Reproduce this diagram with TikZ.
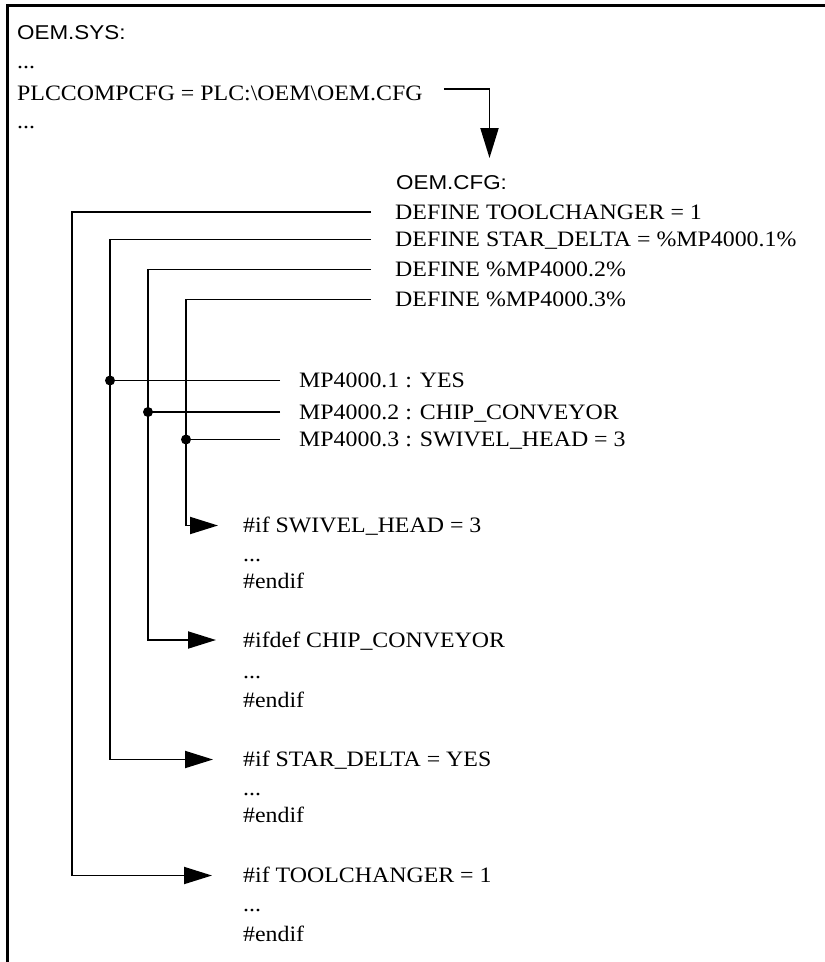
\documentclass[tikz,border=0pt]{standalone}
\usepackage{fontspec}
\setmainfont{Liberation Serif}[FakeStretch=1.085]
\newfontfamily\oemsans{Liberation Sans}[FakeStretch=1.12]
\usetikzlibrary{arrows.meta}
\tikzset{
  txt/.style={inner sep=0pt, anchor=west, font=\fontsize{22}{26}\selectfont, text height=14.6pt, text depth=0pt},
  dotline/.style={inner sep=0pt, anchor=base west, font=\fontsize{22}{26}\selectfont},
  stxt/.style={inner sep=0pt, anchor=west, font=\oemsans\fontsize{20}{24}\selectfont, text height=14.3pt, text depth=0pt},
  conn/.style={line width=1.9pt},
  arr/.style={conn, -{Triangle[length=28pt,width=17pt]}},
  frameline/.style={line width=2.2pt},
  jdot/.style={fill=black}
}
\begin{document}
\begin{tikzpicture}[x=1pt,y=-1pt]
\useasboundingbox (0,0) rectangle (825,962);
% frame
\draw[frameline] (7.5,962) -- (7.5,5.5) -- (825,5.5);

% OEM.SYS part
\node[stxt] (oemsys) at (17,32.2) {OEM.SYS:};
\node[dotline] (dotsA) at (17,68) {...};
\node[txt] (plc) at (17,92.8) {PLCCOMPCFG = PLC:\textbackslash OEM\textbackslash OEM.CFG};
\node[dotline] (dotsB) at (17,128) {...};

% OEM.CFG part
\node[stxt] (cfg) at (396,182.8) {OEM.CFG:};
\node[txt] (def1) at (395,212) {DEFINE TOOLCHANGER = 1};
\node[txt] (def2) at (395,239.5) {DEFINE STAR\_DELTA = \%MP4000.1\%};
\node[txt] (def3) at (395,269.5) {DEFINE \%MP4000.2\%};
\node[txt] (def4) at (395,299.5) {DEFINE \%MP4000.3\%};

\node[txt] (mp1) at (299,380.5) {MP4000.1 : YES};
\node[txt] (mp2) at (299,412) {MP4000.2 : CHIP\_CONVEYOR};
\node[txt] (mp3) at (299,439.5) {MP4000.3 : SWIVEL\_HEAD = 3};

\node[txt] (ifS) at (243,525.5) {\#if SWIVEL\_HEAD = 3};
\node[dotline] (dotsS) at (243,561.7) {...};
\node[dotline] (endS) at (243,588) {\#endif};

\node[txt] (ifC) at (243,640) {\#ifdef CHIP\_CONVEYOR};
\node[dotline] (dotsC) at (243,678) {...};
\node[dotline] (endC) at (243,707) {\#endif};

\node[txt] (ifD) at (243,759.5) {\#if STAR\_DELTA = YES};
\node[dotline] (dotsD) at (243,795) {...};
\node[dotline] (endD) at (243,822.7) {\#endif};

\node[txt] (ifT) at (243,875.5) {\#if TOOLCHANGER = 1};
\node[dotline] (dotsT) at (243,911.7) {...};
\node[dotline] (endT) at (243,941.7) {\#endif};

% vertical bus x positions
\coordinate (v1) at (72,0);
\coordinate (v2) at (110,0);
\coordinate (v3) at (148,0);
\coordinate (v4) at (186,0);

% OEM.SYS -> OEM.CFG
\draw[arr, -{Triangle[length=30pt,width=18pt]}] ([xshift=21pt,yshift=3.5pt]plc.east) -| ([xshift=93.5pt,yshift=17.4pt]cfg.north west);

% DEFINE -> #if
\draw[arr] ([xshift=-24pt]def1.west) -| (ifT.west -| v1) -- ([xshift=-31pt]ifT.west);
\draw[arr] ([xshift=-24pt]def2.west) -| (ifD.west -| v2) -- ([xshift=-30pt]ifD.west);
\draw[arr] ([xshift=-24pt]def3.west) -| (ifC.west -| v3) -- ([xshift=-27pt]ifC.west);
\draw[arr] ([xshift=-24pt]def4.west) -| (ifS.west -| v4) -- ([xshift=-25pt]ifS.west);

% MP -> junctions
\draw[conn] ([xshift=-19pt]mp1.west) -- (mp1.west -| v2);
\draw[conn] ([xshift=-19pt]mp2.west) -- (mp2.west -| v3);
\draw[conn] ([xshift=-19pt]mp3.west) -- (mp3.west -| v4);
\fill[jdot] (mp1.west -| v2) circle (5pt);
\fill[jdot] (mp2.west -| v3) circle (5pt);
\fill[jdot] (mp3.west -| v4) circle (5pt);
\end{tikzpicture}
\end{document}
